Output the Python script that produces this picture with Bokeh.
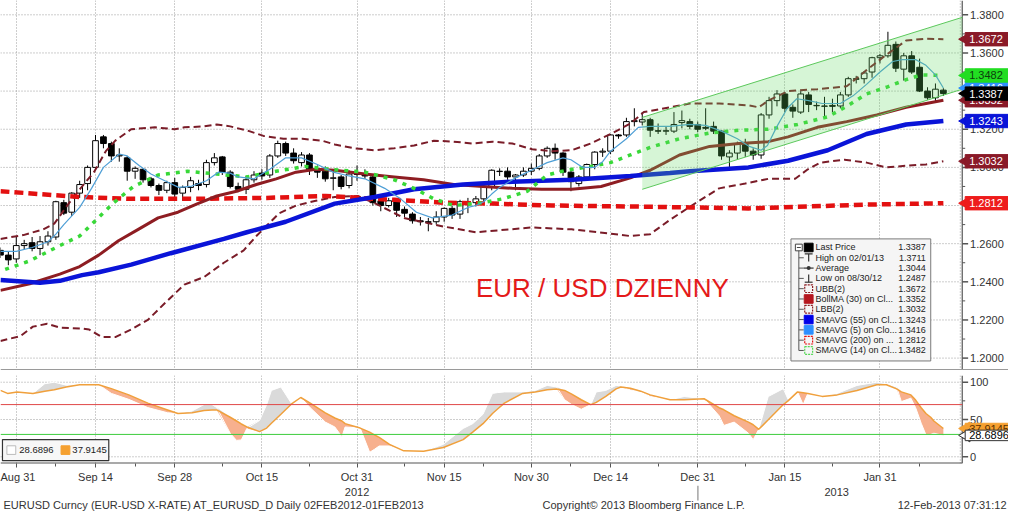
import numpy as np
from bokeh.plotting import figure
from bokeh.layouts import column
from bokeh.models import Range1d, LinearAxis, Grid, FixedTicker, Span
from bokeh.core.properties import value
from bokeh.embed import file_html
from bokeh.resources import INLINE

# ---------------- data ----------------
# business-day index: 0 = 31 Aug 2012 ... 117 = 12 Feb 2013
day_idx = list(range(-2, 118))
opens = [1.2565, 1.2540, 1.2520, 1.2590, 1.2605, 1.2575, 1.2610, 1.2635, 1.2815, 1.2765,
         1.2865, 1.2915, 1.3000, 1.3160, 1.3125, 1.3060, 1.3050, 1.2980, 1.2990, 1.2940,
         1.2905, 1.2880, 1.2920, 1.2865, 1.2895, 1.2915, 1.2910, 1.3025, 1.3055, 1.2975,
         1.2900, 1.2885, 1.2935, 1.2970, 1.2960, 1.3060, 1.3125, 1.3075, 1.3025, 1.3065,
         1.2980, 1.2980, 1.2945, 1.2950, 1.2905, 1.2965, 1.2960, 1.2950, 1.2825, 1.2800,
         1.2820, 1.2780, 1.2755, 1.2720, 1.2715, 1.2715, 1.2740, 1.2785, 1.2755, 1.2810,
         1.2815, 1.2835, 1.2900, 1.2980, 1.2980, 1.2950, 1.2960, 1.2980, 1.2995, 1.3060,
         1.3100, 1.3075, 1.2975, 1.2915, 1.2950, 1.3015, 1.3080, 1.3085, 1.3170, 1.3170,
         1.3240, 1.3238, 1.3250, 1.3192, 1.3190, 1.3190, 1.3235, 1.3240, 1.3225, 1.3210,
         1.3215, 1.3190, 1.3055, 1.3075, 1.3120, 1.3085, 1.3065, 1.3275, 1.3350, 1.3385,
         1.3315, 1.3290, 1.3380, 1.3325, 1.3320, 1.3325, 1.3322, 1.3380, 1.3465, 1.3465,
         1.3500, 1.3575, 1.3585, 1.3645, 1.3515, 1.3585, 1.3525, 1.3400, 1.3365, 1.3405]
highs = [1.2580, 1.2560, 1.2640, 1.2620, 1.2635, 1.2640, 1.2665, 1.2825, 1.2830, 1.2870,
         1.2930, 1.3010, 1.3170, 1.3170, 1.3135, 1.3100, 1.3060, 1.3005, 1.2995, 1.2950,
         1.2915, 1.2930, 1.2945, 1.2905, 1.2950, 1.2935, 1.3040, 1.3075, 1.3060, 1.2985,
         1.2920, 1.2955, 1.2980, 1.2990, 1.3070, 1.3140, 1.3135, 1.3100, 1.3080, 1.3075,
         1.3010, 1.3005, 1.2980, 1.2960, 1.2985, 1.3010, 1.2990, 1.2960, 1.2830, 1.2840,
         1.2830, 1.2795, 1.2765, 1.2740, 1.2735, 1.2770, 1.2790, 1.2800, 1.2830, 1.2840,
         1.2850, 1.2915, 1.2990, 1.2995, 1.3000, 1.2965, 1.3000, 1.3020, 1.3070, 1.3110,
         1.3125, 1.3080, 1.2985, 1.2960, 1.3020, 1.3085, 1.3100, 1.3175, 1.3175, 1.3260,
         1.3310, 1.3290, 1.3260, 1.3230, 1.3215, 1.3290, 1.3298, 1.3255, 1.3240, 1.3310,
         1.3240, 1.3195, 1.3090, 1.3135, 1.3150, 1.3100, 1.3285, 1.3370, 1.3405, 1.3395,
         1.3330, 1.3400, 1.3395, 1.3345, 1.3370, 1.3360, 1.3395, 1.3475, 1.3480, 1.3505,
         1.3580, 1.3595, 1.3711, 1.3660, 1.3600, 1.3610, 1.3570, 1.3420, 1.3440, 1.3415]
lows = [1.2525, 1.2487, 1.2500, 1.2570, 1.2560, 1.2540, 1.2590, 1.2620, 1.2750, 1.2745,
        1.2840, 1.2880, 1.2995, 1.3100, 1.3030, 1.3030, 1.2930, 1.2940, 1.2920, 1.2895,
        1.2855, 1.2865, 1.2835, 1.2825, 1.2870, 1.2880, 1.2895, 1.3010, 1.2960, 1.2890,
        1.2870, 1.2860, 1.2920, 1.2935, 1.2945, 1.3050, 1.3060, 1.3020, 1.3005, 1.2960,
        1.2945, 1.2925, 1.2880, 1.2885, 1.2890, 1.2930, 1.2940, 1.2800, 1.2770, 1.2790,
        1.2740, 1.2740, 1.2705, 1.2695, 1.2665, 1.2700, 1.2715, 1.2730, 1.2730, 1.2760,
        1.2795, 1.2820, 1.2880, 1.2955, 1.2935, 1.2880, 1.2950, 1.2960, 1.2985, 1.3050,
        1.3040, 1.2955, 1.2875, 1.2900, 1.2930, 1.2990, 1.3055, 1.3070, 1.3150, 1.3160,
        1.3215, 1.3220, 1.3160, 1.3175, 1.3170, 1.3180, 1.3205, 1.3200, 1.3185, 1.3195,
        1.3175, 1.3040, 1.2995, 1.3040, 1.3055, 1.3040, 1.3045, 1.3255, 1.3320, 1.3290,
        1.3260, 1.3280, 1.3290, 1.3300, 1.3260, 1.3290, 1.3310, 1.3370, 1.3440, 1.3440,
        1.3470, 1.3545, 1.3575, 1.3500, 1.3455, 1.3490, 1.3395, 1.3355, 1.3340, 1.3375]
closes = [1.2540, 1.2515, 1.2590, 1.2600, 1.2575, 1.2610, 1.2640, 1.2820, 1.2760, 1.2865,
          1.2910, 1.3000, 1.3140, 1.3125, 1.3060, 1.3065, 1.2980, 1.2995, 1.2935, 1.2905,
          1.2880, 1.2920, 1.2860, 1.2895, 1.2930, 1.2905, 1.3025, 1.3050, 1.2975, 1.2900,
          1.2885, 1.2935, 1.2960, 1.2955, 1.3060, 1.3125, 1.3075, 1.3035, 1.3065, 1.2985,
          1.2975, 1.2940, 1.2945, 1.2900, 1.2965, 1.2965, 1.2955, 1.2815, 1.2800, 1.2825,
          1.2775, 1.2760, 1.2720, 1.2715, 1.2712, 1.2740, 1.2785, 1.2750, 1.2820, 1.2805,
          1.2835, 1.2900, 1.2985, 1.2980, 1.2950, 1.2960, 1.2980, 1.2995, 1.3060, 1.3100,
          1.3075, 1.2975, 1.2925, 1.2950, 1.3015, 1.3080, 1.3085, 1.3170, 1.3165, 1.3240,
          1.3245, 1.3250, 1.3195, 1.3190, 1.3192, 1.3225, 1.3245, 1.3215, 1.3200, 1.3205,
          1.3190, 1.3060, 1.3075, 1.3120, 1.3085, 1.3065, 1.3275, 1.3350, 1.3385, 1.3310,
          1.3295, 1.3385, 1.3330, 1.3325, 1.3322, 1.3320, 1.3380, 1.3465, 1.3462, 1.3495,
          1.3575, 1.3585, 1.3640, 1.3520, 1.3585, 1.3500, 1.3400, 1.3365, 1.3410, 1.3387]

sma200_x = [-2.0, 8.0, 14.2, 22.9, 31.6, 39.0, 47.7, 53.9, 60.1, 67.6, 77.5, 85.0, 92.4, 99.9, 107.3, 117.0]
sma200_y = [1.2875, 1.2845, 1.2835, 1.2835, 1.2840, 1.2850, 1.2830, 1.2815, 1.2810, 1.2800,
            1.2795, 1.2790, 1.2785, 1.2795, 1.2805, 1.2812]

sma55_x = [-2.0, 3.0, 5.5, 8.3, 10.4, 14.5, 19.5, 26.2, 29.1, 34.0, 40.2, 45.2, 50.2, 56.4,
           62.6, 70.1, 77.5, 82.5, 85.0, 92.4, 97.4, 102.4, 107.3, 112.3, 117.0]
sma55_y = [1.2410, 1.2395, 1.2405, 1.2435, 1.2450, 1.2490, 1.2550, 1.2625, 1.2660, 1.2715,
           1.2810, 1.2845, 1.2885, 1.2910, 1.2925, 1.2935, 1.2955, 1.2970, 1.2980, 1.3000,
           1.3035, 1.3090, 1.3175, 1.3225, 1.3243]

sma5_x = [-2, 0, 2, 4, 5, 6, 8, 9.5, 11, 13, 14, 15.5, 17, 19, 20.5, 22, 24, 25.5, 27, 28,
          30, 32, 34, 36, 38, 40, 42, 44, 46.5, 48.5, 50.5, 52.5, 55, 57, 58, 59, 60, 61, 63,
          65, 67, 69, 70, 71.5, 73, 74, 75, 77, 78.5, 80, 82.5, 85, 87, 89, 91, 92.5, 94,
          94.8, 96, 97.3, 98.5, 100, 101.7, 104, 105.6, 107.3, 109, 110.6, 111.8, 113.5,
          114.8, 116, 117]
sma5_y = [1.2560, 1.2560, 1.2580, 1.2610, 1.2650, 1.2700, 1.2790, 1.2890, 1.3000, 1.3070,
          1.3060, 1.3010, 1.2965, 1.2925, 1.2895, 1.2900, 1.2930, 1.2975, 1.2970, 1.2950,
          1.2940, 1.2990, 1.3050, 1.3050, 1.3015, 1.2975, 1.2955, 1.2940, 1.2890, 1.2835,
          1.2765, 1.2735, 1.2750, 1.2790, 1.2800, 1.2820, 1.2860, 1.2895, 1.2945, 1.2985,
          1.3025, 1.3050, 1.3040, 1.3000, 1.3000, 1.3030, 1.3085, 1.3150, 1.3210, 1.3215,
          1.3215, 1.3225, 1.3220, 1.3190, 1.3150, 1.3110, 1.3090, 1.3115, 1.3215, 1.3310,
          1.3360, 1.3350, 1.3335, 1.3335, 1.3375, 1.3435, 1.3500, 1.3555, 1.3565, 1.3565,
          1.3535, 1.3485, 1.3416]

sma14_x = [-1.4, 1.7, 5.5, 8.0, 10.1, 12.3, 14.8, 17.9, 21.6, 25.3, 29.1, 32.8, 36.5, 39.6,
           44.0, 47.7, 50.2, 52.7, 55.2, 58.9, 61.4, 64.5, 67.0, 69.4, 72.5, 75.0, 77.5,
           80.0, 83.7, 87.5, 91.2, 94.9, 98.6, 102.4, 104.8, 107.3, 109.8, 112.3, 114.2, 117.0]
sma14_y = [1.2465, 1.2510, 1.2590, 1.2640, 1.2725, 1.2815, 1.2900, 1.2960, 1.2980, 1.2965,
           1.2950, 1.2980, 1.3005, 1.2990, 1.2975, 1.2935, 1.2890, 1.2835, 1.2800, 1.2815,
           1.2835, 1.2875, 1.2960, 1.2985, 1.3005, 1.3025, 1.3065, 1.3105, 1.3150, 1.3180,
           1.3195, 1.3200, 1.3225, 1.3265, 1.3320, 1.3385, 1.3420, 1.3460, 1.3485, 1.3482]

bollma_x = [-2.0, 1.7, 5.5, 8.0, 10.4, 12.9, 15.4, 17.9, 20.4, 22.9, 25.3, 27.8, 30.3, 32.8,
            35.3, 37.8, 40.2, 44.0, 47.7, 51.4, 55.2, 58.9, 62.6, 66.3, 70.1, 73.8, 77.5,
            80.0, 83.7, 87.5, 91.2, 94.9, 97.4, 101.1, 104.8, 108.6, 112.3, 117.0]
bollma_y = [1.2355, 1.2390, 1.2440, 1.2480, 1.2540, 1.2615, 1.2675, 1.2735, 1.2765, 1.2810,
            1.2850, 1.2875, 1.2910, 1.2940, 1.2975, 1.2990, 1.2985, 1.2965, 1.2950, 1.2935,
            1.2910, 1.2900, 1.2890, 1.2885, 1.2885, 1.2900, 1.2945, 1.2985, 1.3065, 1.3110,
            1.3125, 1.3135, 1.3160, 1.3210, 1.3240, 1.3275, 1.3315, 1.3352]

ubb_x = [-2.0, 0.9, 3.4, 4.8, 6.7, 8.6, 9.8, 11.3, 12.5, 14.5, 17.5, 20.0, 21.2, 23.7, 25.3,
         27.0, 29.4, 31.2, 33.7, 36.1, 38.6, 40.2, 42.7, 45.2, 47.7, 50.2, 52.7, 55.2, 57.6,
         60.1, 62.6, 65.1, 67.6, 70.1, 72.5, 75.0, 77.5, 79.2, 82.5, 85.0, 88.7, 92.4, 93.7,
         94.9, 97.4, 101.1, 104.8, 107.3, 109.8, 112.3, 114.8, 117.0]
ubb_y = [1.2625, 1.2645, 1.2675, 1.2705, 1.2815, 1.2915, 1.2975, 1.3085, 1.3140, 1.3200,
         1.3210, 1.3200, 1.3210, 1.3215, 1.3225, 1.3215, 1.3190, 1.3165, 1.3150, 1.3150,
         1.3140, 1.3120, 1.3100, 1.3090, 1.3100, 1.3115, 1.3140, 1.3135, 1.3125, 1.3135,
         1.3125, 1.3095, 1.3085, 1.3090, 1.3125, 1.3175, 1.3230, 1.3290, 1.3315, 1.3335,
         1.3335, 1.3325, 1.3315, 1.3350, 1.3400, 1.3410, 1.3425, 1.3510, 1.3590, 1.3665,
         1.3675, 1.3672]

lbb_x = [-2.0, 0.5, 2.1, 3.9, 5.5, 8.3, 9.2, 10.8, 12.5, 14.5, 16.6, 18.8, 21.2, 23.7, 26.2,
         28.7, 30.3, 33.2, 35.3, 37.8, 40.2, 43.1, 45.6, 48.9, 53.9, 58.0, 65.1, 70.1, 73.4,
         77.5, 80.0, 82.5, 85.8, 88.7, 92.0, 94.9, 98.3, 99.9, 101.5, 104.5, 107.3, 109.8,
         112.7, 114.8, 117.0]
lbb_y = [1.2090, 1.2115, 1.2165, 1.2180, 1.2160, 1.2155, 1.2150, 1.2110, 1.2110, 1.2150,
         1.2200, 1.2290, 1.2385, 1.2425, 1.2500, 1.2565, 1.2640, 1.2760, 1.2800, 1.2825,
         1.2845, 1.2850, 1.2805, 1.2735, 1.2690, 1.2660, 1.2685, 1.2675, 1.2660, 1.2640,
         1.2650, 1.2725, 1.2815, 1.2890, 1.2915, 1.2940, 1.2940, 1.2990, 1.3025, 1.3040,
         1.3025, 1.3000, 1.3010, 1.3015, 1.3032]

# drawn trend channel
channel_x = [79.0, 119.4]
channel_top = [1.3262, 1.3787]
channel_bottom = [1.2885, 1.3410]

# oscillator (lower panel)
osc_x = [-2.0, -1.1, 0.1, 2.1, 3.6, 4.8, 6.3, 8.0, 10.4, 12.0, 14.2, 16.6, 19.1, 20.4, 22.2,
         23.7, 24.7, 25.3, 27.0, 27.8, 28.4, 29.1, 30.7, 31.6, 32.2, 33.4, 34.7, 35.9, 37.1,
         39.0, 40.2, 41.1, 41.5, 43.4, 44.6, 45.2, 45.8, 47.1, 48.9, 51.4, 53.9, 56.4, 57.6,
         58.9, 60.1, 60.7, 61.6, 63.9, 65.5, 67.0, 68.2, 69.2, 70.1, 71.3, 72.5, 73.2, 74.4,
         75.7, 76.3, 77.5, 78.8, 80.0, 82.5, 84.3, 86.8, 88.7, 89.3, 90.6, 92.4, 93.0, 93.7,
         94.9, 96.8, 97.4, 98.6, 99.3, 99.9, 101.7, 103.6, 106.1, 108.6, 109.8, 111.1, 111.7,
         112.9, 113.5, 114.2, 114.8, 115.4, 115.8, 117.0]
osc_slow = [89, 85, 87, 85, 88, 90, 93.6, 96.6, 96.6, 91.4, 83, 72, 62.8, 58, 59,
            62, 62.8, 62.8, 53, 48, 44, 40, 33.8, 38.5, 45, 57, 70.5, 79.5, 72,
            59, 52, 48, 44.5, 38.5, 33, 29.5, 26, 16.7, 8, 7.3, 12.4, 23, 33,
            44.4, 58, 63.7, 72, 85, 87, 90, 91, 89, 84, 76.5, 70, 73, 81,
            91, 93.6, 92, 88, 83, 76.5, 76.5, 77.8, 65.8, 63, 55, 46.5, 43, 36.8,
            49.6, 70, 75, 87, 86, 85, 81, 83, 89, 96.6, 96.6, 91, 87,
            83, 76, 65.8, 58, 53, 48, 37.9145]
osc_fast = [89, 85, 87, 85, 98, 100, 96, 97, 96.6, 85, 77, 66, 59, 58, 61.5,
            70, 70, 66, 31.6, 22, 22.6, 38, 48.7, 70, 89, 93.6, 72, 79.5, 65.8,
            46.5, 40, 27, 40, 38.5, 6, 10, 14.5, 14.5, 8, 7.3, 16.7, 38, 44.4,
            57, 85, 86, 87, 87, 89, 95.7, 93.6, 76.5, 70, 63.7, 70, 87, 89,
            95.7, 95, 89.4, 89, 80.8, 76.5, 80.8, 77.8, 55, 42, 46.5, 31.6, 23, 36.8,
            80.8, 91.4, 77, 87, 70, 85, 81, 85, 95.7, 100, 98, 93.6, 74,
            78.6, 65.8, 45, 29.5, 30, 31.6, 28.6896]
osc_levels = [70, 30]

price_ticks = [1.20, 1.22, 1.24, 1.26, 1.28, 1.30, 1.32, 1.34, 1.36, 1.38]
price_minor = [1.21, 1.23, 1.25, 1.27, 1.29, 1.31, 1.33, 1.35, 1.37]
osc_ticks = [0, 50, 100]
osc_minor = [25, 75]

date_ticks = [0, 10, 20, 31, 43, 54, 65, 75, 86, 97, 109]
date_labels = ["Aug 31", "Sep 14", "Sep 28", "Oct 15", "Oct 31", "Nov 15",
               "Nov 30", "Dec 14", "Dec 31", "Jan 15", "Jan 31"]
date_minor = [5, 15, 26, 37, 49, 59, 70, 81, 92, 103, 114]
year_pos = [43, 103.5]
year_labels = ["2012", "2013"]
year_break = 86

legend_names = ["Last Price", "High on 02/01/13", "Average", "Low on 08/30/12", "UBB(2)",
                "BollMA (30) on Cl...", "LBB(2)", "SMAVG (55) on Cl...", "SMAVG (5) on Clo...",
                "SMAVG (200) on ...", "SMAVG (14) on Cl..."]
legend_values = ["1.3387", "1.3711", "1.3044", "1.2487", "1.3672", "1.3352", "1.3032",
                 "1.3243", "1.3416", "1.2812", "1.3482"]

# value tags: (value, text, background, text colour) in stacking order
top_tags = [(1.3672, "#8a1a28", "white"), (1.3032, "#8a1a28", "white"),
            (1.2812, "#ee1c1c", "white"), (1.3243, "#0a14d8", "white"),
            (1.3352, "#8a1a28", "white"), (1.3416, "#2e8fff", "white"),
            (1.3482, "#22dd22", "#0d3d0d"), (1.3387, "black", "white")]
osc_tags = [(37.9145, "#f5a030", "#5a3000"), (28.6896, "white", "black")]

# ---------------- geometry helpers (reference-pixel -> data) ----------------
FONT = "Liberation Sans"
XS, XE = -1.99, 119.38
YT, YB = 1.3875, 1.1935
OT, OB = 109.0, -9.0
FW = 962            # width of the plotting area left of the value axis
W = 1008            # full width
H1, H2 = 370, 88


def RX(px):
    return XS + px / 977.0 * (XE - XS)


def RY(py):
    return YT - py / 388.0 * (YT - YB)


def RO(py):
    return OT - (py - 393.0) / 92.0 * (OT - OB)


def dx(px):
    return px / 977.0 * (XE - XS)


def dy(py):
    return py / 388.0 * (YT - YB)


def dyo(py):
    return py / 92.0 * (OT - OB)


XR = RX(1024)
GRIDC = "#9c9c9c"
AXC = "#555555"
TXT = "#333333"


def value_axis(p, ticks, minor, labels, y0, y1):
    # grid
    p.segment(x0=[XS] * len(ticks), y0=ticks, x1=[RX(975)] * len(ticks), y1=ticks,
              line_color=GRIDC, line_dash="1 2", line_width=1)
    p.segment(x0=[RX(975)], y0=[y0], x1=[RX(975)], y1=[y1], line_color=GRIDC,
              line_dash="1 2", line_width=1)
    # axis line + ticks
    p.segment(x0=[RX(977)], y0=[y0], x1=[RX(977)], y1=[y1], line_color=AXC, line_width=1.2)
    p.segment(x0=[RX(977)] * len(ticks), y0=ticks, x1=[RX(983)] * len(ticks), y1=ticks,
              line_color=AXC, line_width=1.5)
    p.segment(x0=[RX(977)] * len(minor), y0=minor, x1=[RX(980)] * len(minor), y1=minor,
              line_color=AXC, line_width=1)
    p.text(x=[RX(985)] * len(ticks), y=ticks, text=labels, text_font=value(FONT),
           text_font_size="11px", text_color=TXT, text_baseline="middle")


def draw_tag(p, yv, txt, bg, fg, hpx, border=None):
    p.scatter(x=[RX(981)], y=[yv], marker="triangle", size=13, angle=np.pi / 2,
              fill_color=bg, line_color=border if border else bg)
    p.rect(x=[RX(1002)], y=[yv], width=dx(44), height=hpx, fill_color=bg,
           line_color=border if border else bg)
    p.text(x=[RX(984)], y=[yv], text=[txt], text_font=value(FONT), text_font_size="11px",
           text_color=fg, text_baseline="middle")


# ---------------- top panel ----------------
p1 = figure(frame_width=W, frame_height=H1, x_range=Range1d(XS, XR), y_range=Range1d(YB, YT),
            x_axis_location=None, y_axis_location=None, toolbar_location=None,
            output_backend="svg", min_border=0, outline_line_color=None)
p1.grid.visible = False
p1.add_layout(Grid(dimension=0, ticker=FixedTicker(ticks=date_ticks), grid_line_color=GRIDC,
                   grid_line_dash="1 2", grid_line_width=1))
value_axis(p1, price_ticks, price_minor, ["%.4f" % v for v in price_ticks], YB, YT)

o = np.array(opens)
c = np.array(closes)
xs = np.array(day_idx)
up = c >= o
top = np.maximum(o, c)
bot = np.minimum(o, c)
bot = np.where(top - bot < 0.0002, top - 0.0002, bot)
p1.segment(x0=xs, y0=highs, x1=xs, y1=lows, line_color="black", line_width=1)
p1.vbar(x=xs[up], top=top[up], bottom=bot[up], width=0.72, fill_color="white",
        line_color="black", line_width=1)
p1.vbar(x=xs[~up], top=top[~up], bottom=bot[~up], width=0.72, fill_color="black",
        line_color="black", line_width=1)

p1.line(lbb_x, lbb_y, line_color="#7a1c28", line_width=2, line_dash="7 4")
p1.line(ubb_x, ubb_y, line_color="#7a1c28", line_width=2, line_dash="7 4")
p1.line(sma200_x, sma200_y, line_color="#e31010", line_width=4.5, line_dash="9 5")
p1.line(bollma_x, bollma_y, line_color="#8e1d22", line_width=3)
p1.line(sma55_x, sma55_y, line_color="#0a14d8", line_width=4.5)
p1.line(sma14_x, sma14_y, line_color="#38d838", line_width=3.5, line_dash="4 6")
p1.line(sma5_x, sma5_y, line_color="#4f9fd6", line_width=1.2)

p1.patch(x=channel_x + channel_x[::-1], y=channel_top + channel_bottom[::-1],
         fill_color="#5fd85f", fill_alpha=0.26, line_color=None)
p1.line(channel_x, channel_top, line_color="#5cc85c", line_width=1)
p1.line(channel_x, channel_bottom, line_color="#5cc85c", line_width=1)

p1.text(x=[RX(483)], y=[RY(302)], text=["EUR / USD DZIENNY"], text_color="#e41a1a",
        text_font=value(FONT), text_font_size="26px",
        text_baseline="alphabetic", text_align="left")

# legend box
p1.quad(left=[RX(803)], right=[RX(945)], top=[RY(250)], bottom=[RY(378)],
        fill_color="#f5f5f5", line_color="#7a7a7a", line_width=1)
rows_y = [RY(259 + 10.8 * i) for i in range(11)]
p1.segment(x0=[RX(811)], y0=[rows_y[0]], x1=[RX(811)], y1=[rows_y[10]], line_color="#555555")
p1.segment(x0=[RX(811)] * 10, y0=rows_y[1:], x1=[RX(816)] * 10, y1=rows_y[1:], line_color="#555555")
p1.rect(x=[RX(811)], y=[rows_y[0]], width=dx(7), height=dy(7), fill_color="white", line_color="#444444")
p1.segment(x0=[RX(809)], y0=[rows_y[0]], x1=[RX(813)], y1=[rows_y[0]], line_color="#444444")
icon_x = RX(821)
fill_rows = [0, 5, 7, 8]
fill_cols = ["black", "#b5161e", "#0000e8", "#2e8fff"]
p1.rect(x=[icon_x] * 4, y=[rows_y[i] for i in fill_rows], width=dx(9), height=dy(9),
        fill_color=fill_cols, line_color=fill_cols)
dash_rows = [4, 6, 9, 10]
dash_cols = ["#8e1d22", "#8e1d22", "#e31010", "#55d855"]
p1.rect(x=[icon_x] * 4, y=[rows_y[i] for i in dash_rows], width=dx(8), height=dy(8),
        fill_color=None, line_color=dash_cols, line_dash="2 1", line_width=1.2)
p1.segment(x0=[RX(817), RX(821), RX(816), RX(821), RX(817)],
           y0=[rows_y[1] + dy(4), rows_y[1] + dy(4), rows_y[2], rows_y[3] - dy(4), rows_y[3] - dy(4)],
           x1=[RX(825), RX(821), RX(826), RX(821), RX(825)],
           y1=[rows_y[1] + dy(4), rows_y[1] - dy(4), rows_y[2], rows_y[3] + dy(4), rows_y[3] - dy(4)],
           line_color="#333333", line_width=1.2)
p1.scatter(x=[RX(821)], y=[rows_y[2]], size=4, marker="circle", fill_color="#333333", line_color=None)
p1.text(x=[RX(828)] * 11, y=rows_y, text=legend_names, text_font=value(FONT),
        text_font_size="9px", text_color="#222222", text_baseline="middle")
p1.text(x=[RX(940)] * 11, y=rows_y, text=legend_values, text_font=value(FONT),
        text_font_size="9px", text_color="#222222", text_baseline="middle", text_align="right")

p1.add_layout(Span(location=YB, dimension="width", line_color="#9a9a9a", line_width=3))

for v, bg, fg in top_tags:
    draw_tag(p1, v, "%.4f" % v, bg, fg, dy(14))

# ---------------- lower panel ----------------
p2 = figure(frame_width=W, frame_height=H2, x_range=p1.x_range, y_range=Range1d(OB, OT),
            x_axis_location=None, y_axis_location=None, toolbar_location=None,
            output_backend="svg", min_border=0, min_border_top=5, outline_line_color=None)
p2.grid.visible = False
xax2 = LinearAxis(ticker=FixedTicker(ticks=date_ticks, minor_ticks=date_minor),
                  major_label_overrides={t: l for t, l in zip(date_ticks, date_labels)},
                  major_tick_out=4, major_tick_in=0, minor_tick_out=3, minor_tick_in=0,
                  major_label_standoff=3, axis_line_color=None)
xax2.major_tick_line_color = AXC
xax2.minor_tick_line_color = AXC
xax2.major_label_text_font = FONT
xax2.major_label_text_font_size = "11px"
xax2.major_label_text_color = TXT
p2.add_layout(xax2, "below")
p2.add_layout(Grid(dimension=0, ticker=FixedTicker(ticks=date_ticks), grid_line_color=GRIDC,
                   grid_line_dash="1 2", grid_line_width=1))
value_axis(p2, osc_ticks, osc_minor, [str(v) for v in osc_ticks], OB, OT)

ox = np.array(osc_x)
sl = np.array(osc_slow, dtype=float)
fa = np.array(osc_fast, dtype=float)
p2.varea(x=ox, y1=sl, y2=np.maximum(fa, sl), fill_color="#dadada")
p2.varea(x=ox, y1=np.minimum(fa, sl), y2=sl, fill_color="#f7b08e")
p2.line(ox, fa, line_color="white", line_width=1)
p2.line(ox, sl, line_color="#f0a03c", line_width=1.5)
p2.segment(x0=[XS, XS], y0=osc_levels, x1=[RX(977), RX(977)], y1=osc_levels,
           line_color=["#e04848", "#3ccc3c"], line_width=1)
p2.segment(x0=[XS], y0=[OB], x1=[RX(977)], y1=[OB], line_color=AXC, line_width=2)

# lower legend
p2.quad(left=[RX(2)], right=[RX(110)], top=[RO(460)], bottom=[RO(482)],
        fill_color="#f7f7f7", line_color="#333333", line_width=1.2)
p2.rect(x=[RX(11), RX(66)], y=[RO(471)] * 2, width=dx(9), height=dyo(9),
        fill_color=["white", "#f5a030"], line_color=["#bbbbbb", "#f5a030"])
p2.text(x=[RX(19), RX(73)], y=[RO(471)] * 2, text=["28.6896", "37.9145"], text_font=value(FONT),
        text_font_size="9.5px", text_color="#222222", text_baseline="middle")

for v, bg, fg in osc_tags:
    draw_tag(p2, v, "%.4f" % v, bg, fg, dyo(11), border="#333333" if bg == "white" else None)

# ---------------- footer ----------------
FT = 27
p3 = figure(frame_width=W, frame_height=FT, x_range=Range1d(0, W), y_range=Range1d(0, FT),
            x_axis_location=None, y_axis_location=None, toolbar_location=None,
            output_backend="svg", min_border=0, outline_line_color=None)
p3.grid.visible = False


def to_px(i):
    return (i - XS) / (XE - XS) * FW


p3.segment(x0=[to_px(year_break)], y0=[FT], x1=[to_px(year_break)], y1=[12],
           line_color="#777777", line_width=1)
p3.text(x=[to_px(v) for v in year_pos], y=[21] * 2, text=year_labels, text_font=value(FONT),
        text_font_size="11px", text_color=TXT, text_align="center", text_baseline="middle")
p3.text(x=[3, 542, W - 2], y=[8, 8, 8],
        text=["EURUSD Curncy (EUR-USD X-RATE) AT_EURUSD_D  Daily 02FEB2012-01FEB2013",
              "Copyright\u00a9 2013 Bloomberg Finance L.P.", "12-Feb-2013 07:31:12"],
        text_align=["left", "left", "right"], text_font=value(FONT), text_font_size="11px",
        text_color=TXT, text_baseline="middle")

layout = column(p1, p2, p3, spacing=0)
open("out.html", "w").write(file_html(layout, INLINE))
